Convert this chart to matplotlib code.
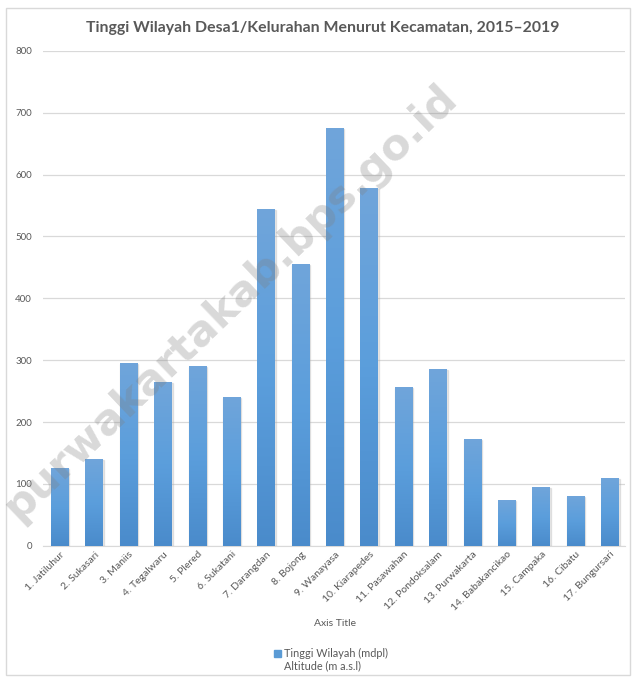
import matplotlib
matplotlib.use("Agg")
import matplotlib.pyplot as plt
import numpy as np
from matplotlib.patches import Rectangle
from matplotlib.colors import LinearSegmentedColormap

categories = ["1. Jatiluhur", "2. Sukasari", "3. Maniis", "4. Tegalwaru", "5. Plered",
              "6. Sukatani", "7. Darangdan", "8. Bojong", "9. Wanayasa", "10. Kiarapedes",
              "11. Pasawahan", "12. Pondoksalam", "13. Purwakarta", "14. Babakancikao",
              "15. Campaka", "16. Cibatu", "17. Bungursari"]
altitude = [125, 140, 296, 265, 291, 241, 544, 456, 675, 578, 257, 286, 173, 74, 95, 81, 110]
yticks = [0, 100, 200, 300, 400, 500, 600, 700, 800]

plt.rcParams['font.family'] = ['Lato', 'DejaVu Sans']
txt = '#595959'

fig = plt.figure(figsize=(6.35, 6.78), dpi=100)
fig.patches.append(Rectangle((0.01, 0.004), 0.982, 0.984, transform=fig.transFigure,
                             fill=False, edgecolor='#d9d9d9', linewidth=1))
ax = fig.add_axes([0.068, 0.195, 0.916, 0.73])

x = np.arange(len(categories))
bars = ax.bar(x, altitude, width=0.52, color='#5b9bd5', zorder=3)

grad = np.linspace(0, 1, 256).reshape(-1, 1)
cmap = LinearSegmentedColormap.from_list('g', ['#4a8bcb', '#5b9edc', '#70a5da'])
for b in bars:
    x0, w, h = b.get_x(), b.get_width(), b.get_height()
    im = ax.imshow(grad, extent=[x0, x0 + w, 0, h], origin='lower', cmap=cmap,
                   aspect='auto', zorder=3.5)
    im.set_clip_path(b)
    ax.add_patch(Rectangle((x0 + 0.015, 0), w, h - 1.5, color='#b0b0b0', alpha=0.3, zorder=2.9))

ax.set_xlim(-0.49, 16.43)
ax.set_ylim(0, 800)
ax.set_yticks(yticks)
ax.grid(axis='y', color='#d9d9d9', linewidth=0.9, zorder=0)
for s in ['top', 'right', 'left']:
    ax.spines[s].set_visible(False)
ax.spines['bottom'].set_color('#d9d9d9')
ax.tick_params(axis='y', length=0, labelsize=7, labelcolor=txt, pad=8)
ax.tick_params(axis='x', length=0, labelsize=7.5, labelcolor=txt, pad=3)
ax.set_xticks(x)
ax.set_xticklabels(categories, rotation=45, ha='right', rotation_mode='anchor')

fig.text(0.508, 0.958, 'Tinggi Wilayah Desa1/Kelurahan Menurut Kecamatan, 2015\u20132019',
         ha='center', va='center', fontsize=11.4, fontweight='bold', color=txt)
fig.text(0.528, 0.081, 'Axis Title', ha='center', va='center', fontsize=7.5, color=txt)

fig.patches.append(Rectangle((0.432, 0.031), 0.011, 0.0105, transform=fig.transFigure,
                             color='#5b9bd5'))
fig.text(0.447, 0.036, 'Tinggi Wilayah (mdpl)', ha='left', va='center', fontsize=7.8, color=txt)
fig.text(0.447, 0.018, 'Altitude (m a.s.l)', ha='left', va='center', fontsize=7.8, color=txt)

fig.text(0.362, 0.555, 'purwakartakab.bps.go.id', ha='center', va='center', rotation=43.7,
         fontsize=31, fontweight='bold', color='#808080', alpha=0.3, zorder=10,
         family=['DejaVu Sans'])

fig.savefig('out.png', dpi=100)
